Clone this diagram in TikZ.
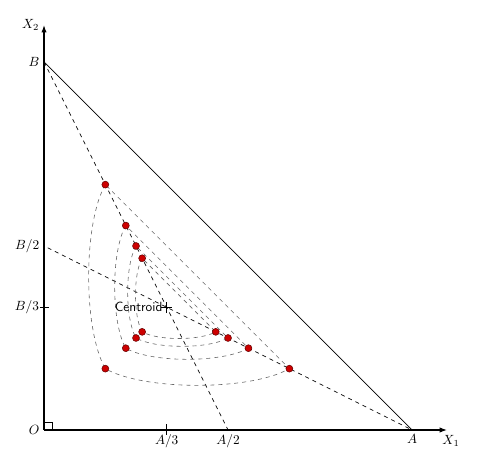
\documentclass[tikz,border=0pt]{standalone}
\usetikzlibrary{arrows.meta}
\begin{document}
\begin{tikzpicture}[x=92pt,y=92pt,
  axisline/.style={line width=0.8pt,-{Latex[length=5.5pt,width=4pt]}},
  median/.style={dashed,line width=0.5pt},
  contour/.style={dashed,black!60,line width=0.45pt},
  bulge/.style={bend right=30,looseness=0.62},
  dot/.style={circle,inner sep=0pt,minimum size=5.2pt,fill={rgb,255:red,205;green,0;blue,0},draw={rgb,255:red,100;green,0;blue,0},line width=0.4pt},
  lbl/.style={inner sep=3.33pt}]
\useasboundingbox (-0.3587,-0.212) rectangle (3.554,3.505);
% key points
\coordinate (O) at (0,0);
\coordinate (A) at (3,0);
\coordinate (B) at (0,3);
\coordinate (A2) at (1.5,0);
\coordinate (B2) at (0,1.5);
\coordinate (B2s) at (0.03,1.485);
\coordinate (C) at (1,1);
\coordinate (X1) at (3.285,0);
\coordinate (X2) at (0,3.30);
\coordinate (tA3a) at (1,-0.04);
\coordinate (tA3b) at (1,0.05);
\coordinate (tB3a) at (-0.033,1);
\coordinate (tB3b) at (0.04,1);
% axes
\draw[axisline] (O) -- (X1) node[below,lbl,xshift=3pt] (lx1) {$X_1$};
\draw[axisline] (O) -- (X2) node[left,lbl] (lx2) {$X_2$};
\draw[line width=0.4pt] (O) rectangle (0.065,0.065);
\node[left,lbl] (lo) at (O) {$O$};
% ticks
\draw[line width=0.5pt] (tA3a) -- (tA3b);
\draw[line width=0.5pt] (tB3a) -- (tB3b);
% labels
\node[below,lbl] (la) at (A) {$A$};
\node[below,lbl] (la3) at (1,0) {$A/3$};
\node[below,lbl] (la2) at (A2) {$A/2$};
\node[left,lbl] (lb) at (B) {$B$};
\node[left,lbl] (lb2) at (B2) {$B/2$};
\node[left,inner sep=0.5pt] (lb3) at (tB3a) {$B/3$};
% hypotenuse and medians
\draw[line width=0.5pt] (B) -- (A);
\draw[median] (B) -- (A2);
\draw[median] (B2s) -- (A);
% contours
\foreach \i/\s in {1/0.5,2/0.3333,3/0.25,4/0.2}{
  \coordinate (t\i) at ({1-\s},{1+2*\s});
  \coordinate (l\i) at ({1-\s},{1-\s});
  \coordinate (r\i) at ({1+2*\s},{1-\s});
  \draw[contour] (t\i) to[bulge] (l\i) to[bulge] (r\i) -- cycle;
}
\foreach \i in {1,2,3,4}{
  \node[dot] (dt\i) at (t\i) {};
  \node[dot] (dl\i) at (l\i) {};
  \node[dot] (dr\i) at (r\i) {};
}
% centroid
\draw[line width=0.4pt] ([xshift=-4pt]C) -- ([xshift=4pt]C);
\draw[line width=0.4pt] ([yshift=-4pt]C) -- ([yshift=4pt]C);
\node[left,inner sep=1pt,font=\sffamily] (lc) at ([xshift=-2pt]C) {Centroid};
\end{tikzpicture}
\end{document}
